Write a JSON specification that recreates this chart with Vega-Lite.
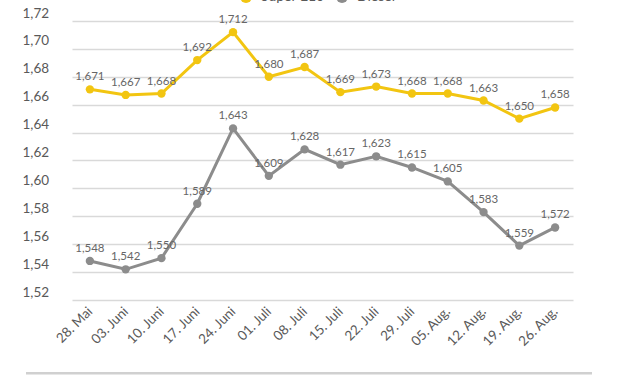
{
  "$schema": "https://vega.github.io/schema/vega-lite/v6.json",
  "width": 566,
  "height": 279,
  "autosize": {"type": "none"},
  "padding": {"left": 26, "top": 21, "right": 35, "bottom": 76},
  "background": "white",
  "config": {
    "view": {"stroke": null},
    "font": "Lato",
    "locale": {"number": {"decimal": ",", "thousands": ".", "grouping": [3], "currency": ["", " €"]}}
  },
  "datasets": {
    "prices": [
      {"date": "28. Mai", "kraftstoff": "Super E10", "preis": 1.671},
      {"date": "03. Juni", "kraftstoff": "Super E10", "preis": 1.667},
      {"date": "10. Juni", "kraftstoff": "Super E10", "preis": 1.668},
      {"date": "17. Juni", "kraftstoff": "Super E10", "preis": 1.692},
      {"date": "24. Juni", "kraftstoff": "Super E10", "preis": 1.712},
      {"date": "01. Juli", "kraftstoff": "Super E10", "preis": 1.680},
      {"date": "08. Juli", "kraftstoff": "Super E10", "preis": 1.687},
      {"date": "15. Juli", "kraftstoff": "Super E10", "preis": 1.669},
      {"date": "22. Juli", "kraftstoff": "Super E10", "preis": 1.673},
      {"date": "29. Juli", "kraftstoff": "Super E10", "preis": 1.668},
      {"date": "05. Aug.", "kraftstoff": "Super E10", "preis": 1.668},
      {"date": "12. Aug.", "kraftstoff": "Super E10", "preis": 1.663},
      {"date": "19. Aug.", "kraftstoff": "Super E10", "preis": 1.650},
      {"date": "26. Aug.", "kraftstoff": "Super E10", "preis": 1.658},
      {"date": "28. Mai", "kraftstoff": "Diesel", "preis": 1.548},
      {"date": "03. Juni", "kraftstoff": "Diesel", "preis": 1.542},
      {"date": "10. Juni", "kraftstoff": "Diesel", "preis": 1.550},
      {"date": "17. Juni", "kraftstoff": "Diesel", "preis": 1.589},
      {"date": "24. Juni", "kraftstoff": "Diesel", "preis": 1.643},
      {"date": "01. Juli", "kraftstoff": "Diesel", "preis": 1.609},
      {"date": "08. Juli", "kraftstoff": "Diesel", "preis": 1.628},
      {"date": "15. Juli", "kraftstoff": "Diesel", "preis": 1.617},
      {"date": "22. Juli", "kraftstoff": "Diesel", "preis": 1.623},
      {"date": "29. Juli", "kraftstoff": "Diesel", "preis": 1.615},
      {"date": "05. Aug.", "kraftstoff": "Diesel", "preis": 1.605},
      {"date": "12. Aug.", "kraftstoff": "Diesel", "preis": 1.583},
      {"date": "19. Aug.", "kraftstoff": "Diesel", "preis": 1.559},
      {"date": "26. Aug.", "kraftstoff": "Diesel", "preis": 1.572}
    ],
    "baseline": [{"wert": 1.4675}]
  },
  "data": {"name": "prices"},
  "encoding": {
    "x": {
      "field": "date", "type": "ordinal", "sort": null,
      "scale": {"type": "point", "range": [46, 547]},
      "axis": {
        "title": null, "domain": false, "ticks": false, "grid": false,
        "labelAngle": -45, "labelAlign": "right", "labelBaseline": "middle",
        "labelPadding": 9, "labelFontSize": 13.5, "labelColor": "#595959", "labelFont": "Lato"
      }
    },
    "y": {
      "field": "preis", "type": "quantitative",
      "scale": {"domain": [1.52, 1.72], "zero": false, "nice": false},
      "axis": {
        "title": null, "domain": false, "ticks": false,
        "values": [1.52, 1.54, 1.56, 1.58, 1.60, 1.62, 1.64, 1.66, 1.68, 1.70, 1.72],
        "format": ".2f", "labelAlign": "left", "labelBaseline": "alphabetic",
        "labelPadding": 4, "labelOffset": -4, "labelFontSize": 13.5, "labelColor": "#595959",
        "gridColor": "#d9d9d9", "gridWidth": 1.5
      }
    },
    "color": {
      "field": "kraftstoff", "type": "nominal",
      "scale": {"domain": ["Super E10", "Diesel"], "range": ["#F2C511", "#8C8C8C"]},
      "legend": {
        "title": null, "orient": "none", "direction": "horizontal",
        "legendX": 213, "legendY": -31,
        "symbolType": "circle", "symbolSize": 140, "symbolStrokeWidth": 0,
        "labelFontSize": 14, "labelColor": "#595959", "labelOffset": 8, "columnPadding": 10
      }
    }
  },
  "layer": [
    {
      "data": {"name": "baseline"},
      "mark": {"type": "rule", "color": "#d0d0d0", "strokeWidth": 2.5},
      "encoding": {"y": {"field": "wert", "type": "quantitative"}, "x": null, "color": null}
    },
    {
      "mark": {"type": "line", "strokeWidth": 3}
    },
    {
      "mark": {"type": "point", "filled": true, "opacity": 1, "size": 70}
    },
    {
      "mark": {"type": "text", "dy": -12, "fontSize": 11.5, "color": "#666666", "font": "Lato"},
      "encoding": {"text": {"field": "preis", "type": "quantitative", "format": ".3f"}, "color": null}
    }
  ]
}
